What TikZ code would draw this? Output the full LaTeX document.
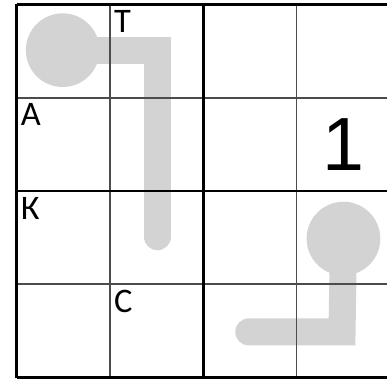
\documentclass[tikz,border=0pt]{standalone}
\usepackage{fontspec}
\newfontfamily\letterfont{Carlito}
\newfontfamily\digitfont{Liberation Sans}
\usepackage{tikz}
\usetikzlibrary{positioning}

\definecolor{pipegray}{RGB}{211,211,211}

\begin{document}
\begin{tikzpicture}[
    x=2cm, y=-2cm,
    % Grid
    thin_line/.style={draw=black!70, line width=1pt},
    thick_line/.style={draw=black, line width=1.8pt},
    % Pipes
    bulb/.style={circle, fill=pipegray, minimum size=1.58cm, inner sep=0pt},
    pipe/.style={draw=pipegray, line width=0.58cm, line cap=round, line join=miter},
    % Labels
    corner_text/.style={anchor=north west, inner xsep=2.5pt, inner ysep=3.5pt,
        font=\letterfont\fontsize{21}{25}\selectfont},
    clue_text/.style={font=\digitfont\fontsize{46}{50}\selectfont}
]

    % --- FRAME ---
    \useasboundingbox (-0.177,-0.048) rectangle (3.972,4.054);

    % --- PIPES ---
    \coordinate (bendA) at (1.51,0.49);
    \coordinate (endA) at (1.51,2.49);
    \node[bulb] (bulbA) at (0.495,0.49) {};
    \draw[pipe] (bulbA.center) -- (bendA) -- (endA);

    \coordinate (bendB) at (3.49,3.51);
    \coordinate (endB) at (2.49,3.51);
    \node[bulb] (bulbB) at (3.505,2.51) {};
    \draw[pipe] (bulbB.center) -- (bendB) -- (endB);

    % --- GRID ---
    \foreach \i in {1,3} {
        \draw[thin_line] (\i,0) -- (\i,4);
        \draw[thin_line] (0,\i) -- (4,\i);
    }
    \foreach \i in {0,2,4} {
        \draw[thick_line] (\i,0) -- (\i,4);
        \draw[thick_line] (0,\i) -- (4,\i);
    }

    % --- LETTERS ---
    \node[corner_text] (letT) at (1,0) {Т};
    \node[corner_text] (letA) at (0,1) {А};
    \node[corner_text] (letK) at (0,2) {К};
    \node[corner_text] (letS) at (1,3) {С};

    % --- CLUE ---
    \node[clue_text] (clue) at (3.5,1.5) {1};

\end{tikzpicture}
\end{document}
